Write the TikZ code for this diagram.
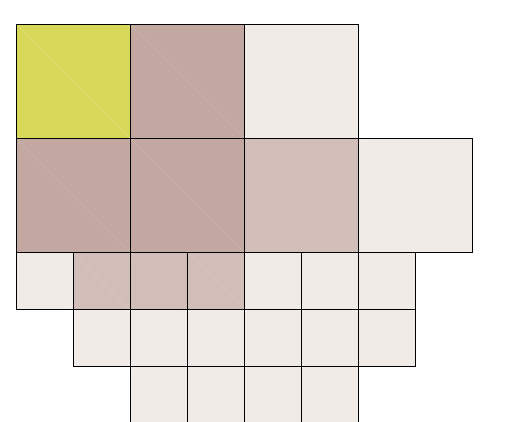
\documentclass[tikz,border=0pt]{standalone}
\definecolor{cyel}{HTML}{D8D95A}
\definecolor{cmau}{HTML}{C2A8A1}
\definecolor{clmau}{HTML}{D2BEB8}
\definecolor{cpale}{HTML}{F0EBE7}
\begin{document}
\begin{tikzpicture}[x=1pt,y=-1pt,
  cell/.style={draw=black,line width=1.0pt},
  diag/.style={draw=white,opacity=0.15,line width=0.7pt}]
\useasboundingbox (0,0) rectangle (519,421);
\clip (0,0) rectangle (519,421);
\newcommand{\sq}[4]{% x y size colour
  \fill[#4] (#1,#2) rectangle ++(#3,#3);
  \draw[diag] (#1,#2) -- ++(#3,#3);
  \draw[cell] (#1,#2) rectangle ++(#3,#3);}
% big row 1
\sq{16}{24}{114}{cyel}
\sq{130}{24}{114}{cmau}
\sq{244}{24}{114}{cpale}
% big row 2
\sq{16}{138}{114}{cmau}
\sq{130}{138}{114}{cmau}
\sq{244}{138}{114}{clmau}
\sq{358}{138}{114}{cpale}
% small row 1
\sq{16}{252}{57}{cpale}
\sq{73}{252}{57}{clmau}
\sq{130}{252}{57}{clmau}
\sq{187}{252}{57}{clmau}
\sq{244}{252}{57}{cpale}
\sq{301}{252}{57}{cpale}
\sq{358}{252}{57}{cpale}
% small row 2
\foreach \x in {73,130,187,244,301,358} {\sq{\x}{309}{57}{cpale}}
% small row 3
\foreach \x in {130,187,244,301} {\sq{\x}{366}{57}{cpale}}
\end{tikzpicture}
\end{document}
